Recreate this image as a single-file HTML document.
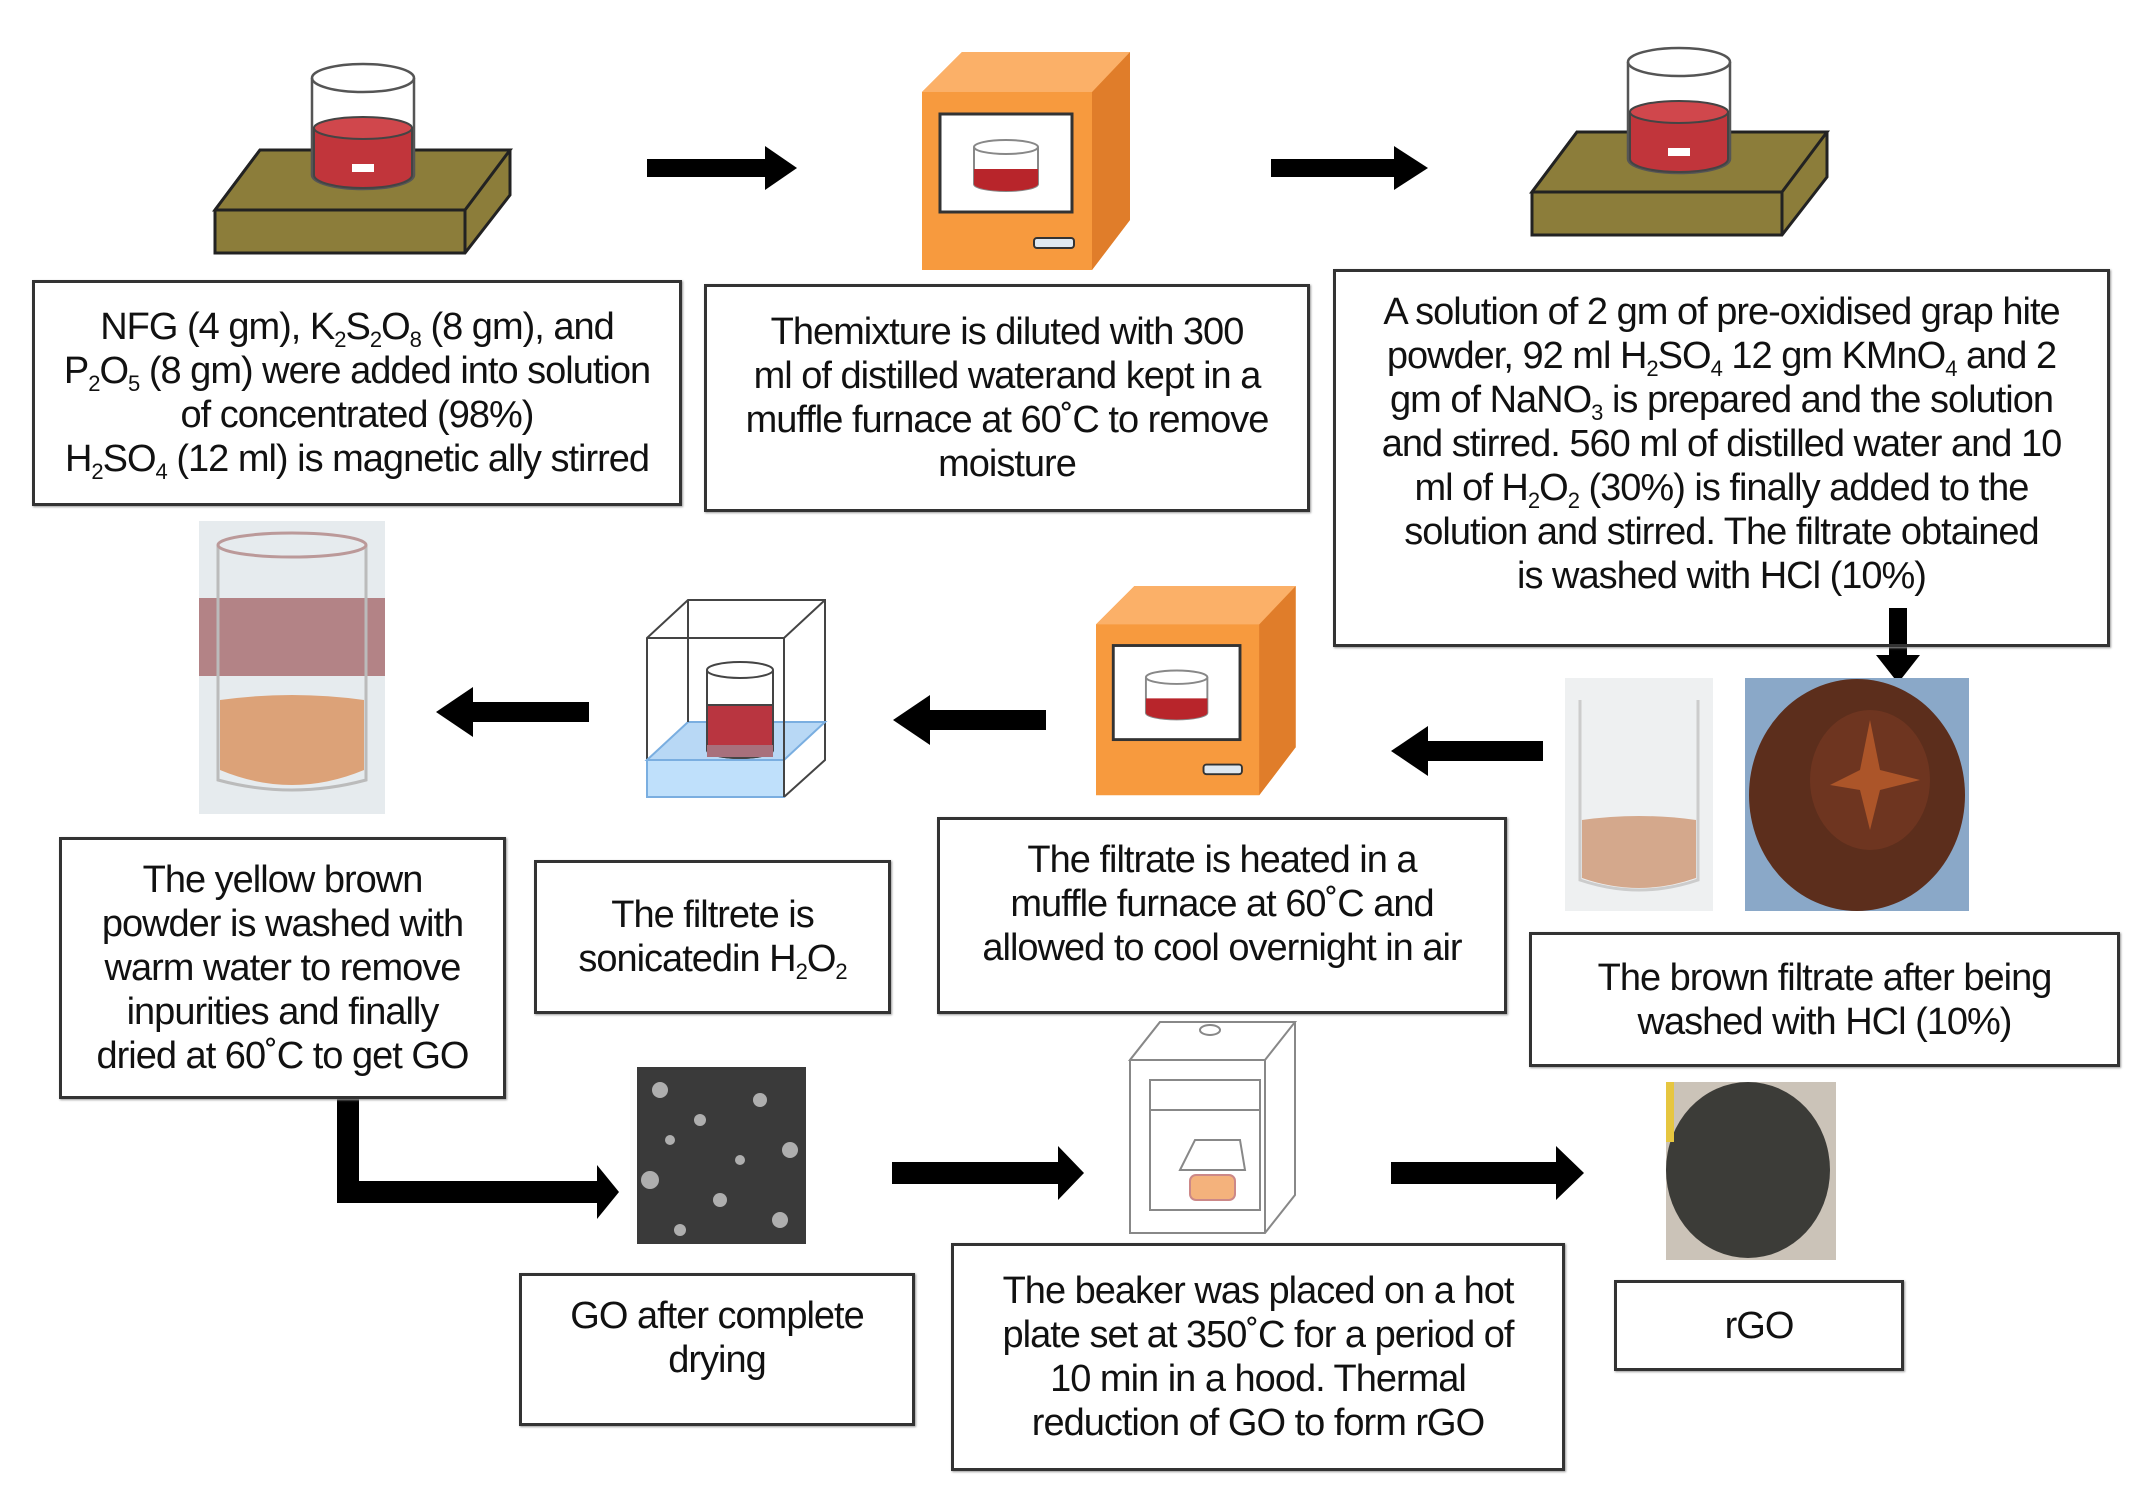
<!DOCTYPE html>
<html><head><meta charset="utf-8"><style>
body{margin:0;background:#fff;}
#c{position:relative;width:2138px;height:1507px;overflow:hidden;background:#fff;font-family:"Liberation Sans",Arial,sans-serif;}
.b{position:absolute;box-sizing:border-box;border:3px solid #333;display:flex;align-items:center;justify-content:center;text-align:center;font-size:38px;line-height:44px;color:#111;letter-spacing:-1px;white-space:nowrap;box-shadow:1px 1px 2px #999;}
.b>div{display:block;}
sub{font-size:22px;vertical-align:-8px;line-height:0;}
svg{position:absolute;left:0;top:0;}
</style></head><body><div id="c">
<svg width="2138" height="1507" viewBox="0 0 2138 1507">
<defs>
<g id="hp">
<polygon points="0,60 45,0 295,0 295,45 250,103 0,103" fill="#8c7d3a" stroke="#222" stroke-width="3"/>
<polygon points="0,60 45,0 295,0 250,60" fill="#8c7d3a" stroke="#222" stroke-width="3"/>
<line x1="250" y1="60" x2="250" y2="103" stroke="#222" stroke-width="3"/>
</g>
<g id="bk">
<path d="M0,18 L0,115 A51,14 0 0 0 102,115 L102,18" fill="none" stroke="#555" stroke-width="2.5"/>
<ellipse cx="51" cy="18" rx="51" ry="14" fill="none" stroke="#555" stroke-width="2.5"/>
<path d="M2,68 L2,115 A49,13 0 0 0 100,115 L100,68 Z" fill="#c1353b" stroke="#444" stroke-width="2"/>
<ellipse cx="51" cy="68" rx="49" ry="11" fill="#d0474c" stroke="#444" stroke-width="2"/>
<rect x="40" y="104" width="22" height="8" fill="#fff"/>
</g>
<g id="fu">
<polygon points="0,40 40,0 208,0 208,168 170,218 0,218" fill="#f79a3e"/>
<polygon points="170,40 208,0 208,168 170,218" fill="#e07d2a"/>
<polygon points="0,40 40,0 208,0 170,40" fill="#fbb068"/>
<rect x="18" y="62" width="132" height="98" fill="#fff" stroke="#333" stroke-width="3"/>
<path d="M52,95 L52,132 A32,7 0 0 0 116,132 L116,95" fill="#fff" stroke="#888" stroke-width="2"/>
<ellipse cx="84" cy="95" rx="32" ry="7" fill="#fff" stroke="#888" stroke-width="2"/>
<path d="M52,117 L52,132 A32,7 0 0 0 116,132 L116,117 Z" fill="#b8252b"/>
<rect x="112" y="186" width="40" height="10" rx="3" fill="#dfe8f0" stroke="#333" stroke-width="2"/>
</g>
</defs>
<use href="#hp" x="215" y="150"/>
<use href="#bk" x="312" y="60"/>
<use href="#hp" x="1532" y="132"/>
<use href="#bk" x="1628" y="44"/>
<use href="#fu" x="922" y="52"/>
<g transform="translate(1096,586) scale(0.96,0.96)"><use href="#fu"/></g>
<g fill="#000">
<rect x="647" y="159" width="120" height="18"/><polygon points="765,146 797,168 765,190"/>
<rect x="1271" y="159" width="125" height="18"/><polygon points="1394,146 1428,168 1394,190"/>
<rect x="1426" y="741" width="117" height="20"/><polygon points="1428,726 1391,751 1428,776"/>
<rect x="928" y="710" width="118" height="20"/><polygon points="930,695 893,720 930,745"/>
<rect x="471" y="702" width="118" height="20"/><polygon points="473,687 436,712 473,737"/>
<rect x="1889" y="608" width="18" height="50"/><polygon points="1876,655 1898,683 1920,655"/>
<rect x="337" y="1099" width="22" height="104"/><rect x="337" y="1181" width="262" height="22"/><polygon points="597,1165 619,1192 597,1219"/>
<rect x="892" y="1162" width="168" height="22"/><polygon points="1058,1146 1084,1173 1058,1200"/>
<rect x="1391" y="1162" width="167" height="22"/><polygon points="1556,1146 1584,1173 1556,1200"/>
</g>
<g stroke="#444" stroke-width="2" fill="none">
<polygon points="647,638 688,600 825,600 825,760 784,797 647,797" fill="#fff"/>
<polygon points="647,760 688,722 825,722 784,760" fill="#b8d8f5" stroke="#7aaee0"/>
<rect x="647" y="760" width="137" height="37" fill="#bfe0fb" stroke="#7aaee0"/>
<path d="M707,670 L707,750 A33,8 0 0 0 773,750 L773,670" fill="#fff"/>
<ellipse cx="740" cy="670" rx="33" ry="8"/>
<path d="M707,705 L707,750 A33,8 0 0 0 773,750 L773,705 Z" fill="#b93540"/>
<rect x="707" y="745" width="66" height="12" fill="#a8707c" stroke="none"/>
<line x1="647" y1="638" x2="784" y2="638"/><line x1="784" y1="638" x2="784" y2="797"/><line x1="784" y1="638" x2="825" y2="600"/>
<line x1="688" y1="600" x2="688" y2="722"/>
</g>
<rect x="199" y="521" width="186" height="293" fill="#e6ebee"/>
<rect x="199" y="598" width="186" height="78" fill="#b38386"/>
<path d="M218,545 L218,780 Q292,800 366,780 L366,545" fill="none" stroke="#bbb" stroke-width="3"/>
<ellipse cx="292" cy="545" rx="74" ry="12" fill="none" stroke="#b99" stroke-width="3"/>
<path d="M220,700 Q292,690 364,700 L364,770 Q292,800 220,770 Z" fill="#dca278"/>
<rect x="1565" y="678" width="148" height="233" fill="#eef0f1"/>
<path d="M1580,700 L1580,880 Q1639,900 1698,880 L1698,700" fill="none" stroke="#ccc" stroke-width="3"/>
<path d="M1582,820 Q1639,812 1696,820 L1696,878 Q1639,898 1582,878 Z" fill="#d4a88c"/>
<rect x="1745" y="678" width="224" height="233" fill="#8aa8c8"/>
<ellipse cx="1857" cy="795" rx="108" ry="116" fill="#5c2e1c"/>
<ellipse cx="1870" cy="780" rx="60" ry="70" fill="#6e3520"/>
<polygon points="1870,720 1880,770 1920,780 1880,790 1870,830 1860,790 1830,785 1860,770" fill="#d56a30" opacity="0.6"/>
<rect x="637" y="1067" width="169" height="177" fill="#3a3a3a"/>
<g fill="#ccc" opacity="0.8">
<circle cx="660" cy="1090" r="8"/><circle cx="700" cy="1120" r="6"/><circle cx="760" cy="1100" r="7"/><circle cx="790" cy="1150" r="8"/><circle cx="650" cy="1180" r="9"/><circle cx="720" cy="1200" r="7"/><circle cx="780" cy="1220" r="8"/><circle cx="680" cy="1230" r="6"/><circle cx="740" cy="1160" r="5"/><circle cx="670" cy="1140" r="5"/></g>
<g stroke="#888" stroke-width="2" fill="#fff">
<polygon points="1130,1060 1160,1022 1295,1022 1295,1195 1265,1233 1130,1233"/>
<polygon points="1130,1060 1160,1022 1295,1022 1265,1060"/>
<line x1="1265" y1="1060" x2="1265" y2="1233"/>
<rect x="1150" y="1080" width="110" height="30"/>
<rect x="1150" y="1110" width="110" height="100" fill="none"/>
<rect x="1190" y="1175" width="45" height="25" rx="6" fill="#f4b27c" stroke="#c88"/>
<polygon points="1180,1170 1195,1140 1240,1140 1245,1170"/>
<ellipse cx="1210" cy="1030" rx="10" ry="5"/>
</g>
<rect x="1666" y="1082" width="170" height="178" fill="#cbc3b8"/>
<ellipse cx="1748" cy="1170" rx="82" ry="88" fill="#3c3c38"/>
<rect x="1666" y="1082" width="8" height="60" fill="#e6c640"/>
</svg>
<div class="b" style="left:32px;top:280px;width:650px;height:226px;"><div>NFG (4 gm), K<sub>2</sub>S<sub>2</sub>O<sub>8</sub> (8 gm), and<br>P<sub>2</sub>O<sub>5</sub> (8 gm) were added into solution<br>of concentrated (98%)<br>H<sub>2</sub>SO<sub>4</sub> (12 ml) is magnetic ally stirred</div></div>
<div class="b" style="left:704px;top:284px;width:606px;height:228px;"><div>Themixture is diluted with 300<br>ml of distilled waterand kept in a<br>muffle furnace at 60˚C to remove<br>moisture</div></div>
<div class="b" style="left:1333px;top:269px;width:777px;height:378px;align-items:flex-start;padding-top:18px;"><div>A solution of 2 gm of pre-oxidised grap hite<br>powder, 92 ml H<sub>2</sub>SO<sub>4</sub> 12 gm KMnO<sub>4</sub> and 2<br>gm of NaNO<sub>3</sub> is prepared and the solution<br>and stirred. 560 ml of distilled water and 10<br>ml of H<sub>2</sub>O<sub>2</sub> (30%) is finally added to the<br>solution and stirred. The filtrate obtained<br>is washed with HCl (10%)</div></div>
<div class="b" style="left:1529px;top:932px;width:591px;height:135px;"><div>The brown filtrate after being<br>washed with HCl (10%)</div></div>
<div class="b" style="left:937px;top:817px;width:570px;height:197px;align-items:flex-start;padding-top:18px;"><div>The filtrate is heated in a<br>muffle furnace at 60˚C and<br>allowed to cool overnight in air</div></div>
<div class="b" style="left:534px;top:860px;width:357px;height:154px;"><div>The filtrete is<br>sonicatedin H<sub>2</sub>O<sub>2</sub></div></div>
<div class="b" style="left:59px;top:837px;width:447px;height:262px;"><div>The yellow brown<br>powder is washed with<br>warm water to remove<br>inpurities and finally<br>dried at 60˚C to get GO</div></div>
<div class="b" style="left:519px;top:1273px;width:396px;height:153px;align-items:flex-start;padding-top:18px;"><div>GO after complete<br>drying</div></div>
<div class="b" style="left:951px;top:1243px;width:614px;height:228px;"><div>The beaker was placed on a hot<br>plate set at 350˚C for a period of<br>10 min in a hood. Thermal<br>reduction of GO to form rGO</div></div>
<div class="b" style="left:1614px;top:1280px;width:290px;height:91px;"><div>rGO</div></div>
</div></body></html>
